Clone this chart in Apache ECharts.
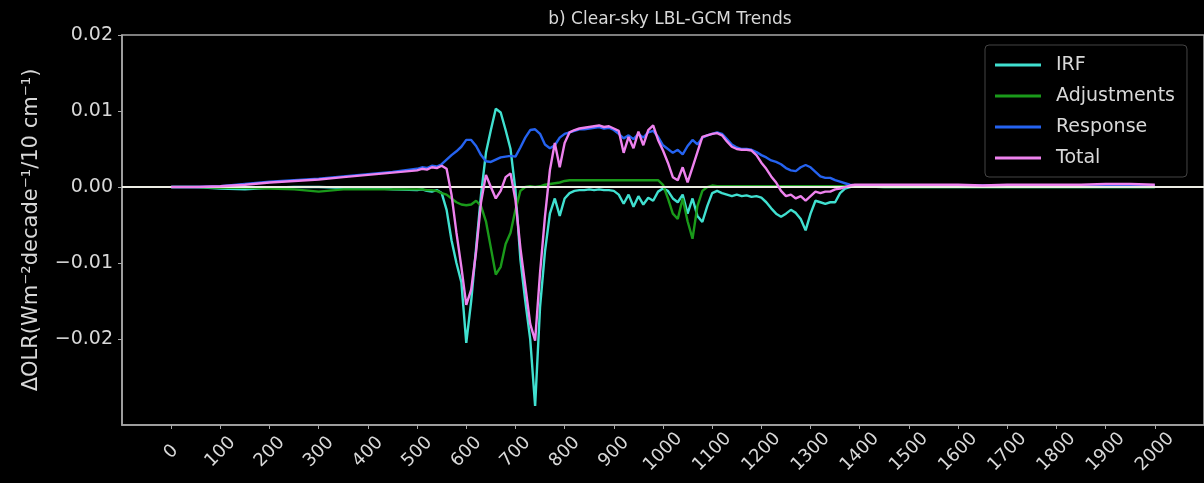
<!DOCTYPE html>
<html>
<head>
<meta charset="utf-8">
<script src="https://cdn.jsdelivr.net/npm/echarts@6/dist/echarts.min.js"></script>
<style>
  html, body { margin: 0; padding: 0; background: #000; }
  #chart { width: 1204px; height: 483px; }
</style>
</head>
<body>
<div id="chart"></div>
<script>
// Spectral grid (cm^-1): coarse outside the active band, 10 cm^-1 inside it
const wavenumber = [
  0, 50, 100, 150, 200, 250, 300, 350, 400, 450, 500,
  510, 520, 530, 540, 550, 560, 570, 580, 590, 600,
  610, 620, 630, 640, 650, 660, 670, 680, 690, 700,
  710, 720, 730, 740, 750, 760, 770, 780, 790, 800,
  810, 820, 830, 840, 850, 860, 870, 880, 890, 900,
  910, 920, 930, 940, 950, 960, 970, 980, 990, 1000,
  1010, 1020, 1030, 1040, 1050, 1060, 1070, 1080, 1090, 1100,
  1110, 1120, 1130, 1140, 1150, 1160, 1170, 1180, 1190, 1200,
  1210, 1220, 1230, 1240, 1250, 1260, 1270, 1280, 1290, 1300,
  1310, 1320, 1330, 1340, 1350, 1360, 1370, 1380, 1390, 1400,
  1450, 1500, 1550, 1600, 1650, 1700, 1750, 1800, 1850, 1900, 1950, 2000
];

// Instantaneous radiative forcing
const irf = [
  0, 0, -0.0002, -0.0003, -0.0001, 0, 0, -0.0001, -0.0001, -0.0003, -0.0004,
  -0.0003, -0.0005, -0.0006, -0.0004, -0.0008, -0.0030, -0.0070, -0.0100, -0.0125, -0.0205,
  -0.0150, -0.0080, -0.0010, 0.0045, 0.0075, 0.0103, 0.0098, 0.0075, 0.0050, -0.0004,
  -0.0095, -0.0150, -0.0200, -0.0288, -0.0158, -0.0085, -0.0035, -0.0015, -0.0038, -0.0015,
  -0.0008, -0.0005, -0.0004, -0.0004, -0.0003, -0.0004, -0.0003, -0.0004, -0.0004, -0.0005,
  -0.0010, -0.0022, -0.0010, -0.0026, -0.0012, -0.0023, -0.0014, -0.0018, -0.0006, -0.0002,
  -0.0005, -0.0015, -0.0020, -0.0010, -0.0035, -0.0015, -0.0038, -0.0046, -0.0025, -0.0008,
  -0.0005, -0.0008, -0.0010, -0.0012, -0.0010, -0.0012, -0.0011, -0.0013, -0.0012, -0.0014,
  -0.0020, -0.0028, -0.0035, -0.0039, -0.0035, -0.0030, -0.0034, -0.0042, -0.0057, -0.0035,
  -0.0018, -0.0020, -0.0022, -0.0020, -0.0020, -0.0008, -0.0002, 0, 0.0001, 0.0001,
  0, 0, 0, 0, 0, 0, 0, 0, 0, 0, 0, 0
];

// Rapid adjustments
const adjustments = [
  0, 0, -0.0001, -0.0001, -0.0002, -0.0003, -0.0006, -0.0003, -0.0003, -0.0003, -0.0003,
  -0.0003, -0.0004, -0.0004, -0.0005, -0.0008, -0.0010, -0.0015, -0.0020, -0.0023, -0.0024,
  -0.0023, -0.0018, -0.0025, -0.0045, -0.0080, -0.0115, -0.0105, -0.0075, -0.0060, -0.0030,
  -0.0005, 0, 0.0001, 0, 0.0001, 0.0003, 0.0004, 0.0005, 0.0006, 0.0008,
  0.0009, 0.0009, 0.0009, 0.0009, 0.0009, 0.0009, 0.0009, 0.0009, 0.0009, 0.0009,
  0.0009, 0.0009, 0.0009, 0.0009, 0.0009, 0.0009, 0.0009, 0.0009, 0.0009, 0.0003,
  -0.0015, -0.0035, -0.0042, -0.0015, -0.0045, -0.0068, -0.0025, -0.0005, 0, 0.0002,
  0.0001, 0.0001, 0.0001, 0.0001, 0.0001, 0.0001, 0.0001, 0.0001, 0.0001, 0.0001,
  0.0001, 0.0001, 0.0001, 0.0001, 0.0001, 0.0001, 0.0001, 0.0001, 0.0001, 0.0001,
  0.0001, 0.0001, 0.0001, 0.0001, 0.0001, 0.0001, 0.0001, 0.0001, 0.0001, 0.0001,
  0, 0, 0, 0, 0, 0, 0, 0, 0, 0, 0, 0
];

// Temperature / water-vapour response
const response = [
  0, 0, 0.0001, 0.0004, 0.0007, 0.0009, 0.0011, 0.0014, 0.0017, 0.0020, 0.0024,
  0.0026, 0.0025, 0.0028, 0.0027, 0.0030, 0.0036, 0.0042, 0.0047, 0.0053, 0.0062,
  0.0062, 0.0054, 0.0042, 0.0034, 0.0033, 0.0036, 0.0039, 0.0040, 0.0041, 0.0040,
  0.0052, 0.0065, 0.0075, 0.0076, 0.0070, 0.0056, 0.0051, 0.0055, 0.0065, 0.0070,
  0.0072, 0.0074, 0.0076, 0.0076, 0.0077, 0.0078, 0.0079, 0.0077, 0.0078, 0.0075,
  0.0070, 0.0064, 0.0068, 0.0063, 0.0070, 0.0065, 0.0072, 0.0074, 0.0066, 0.0055,
  0.0050, 0.0045, 0.0049, 0.0043, 0.0054, 0.0062, 0.0056, 0.0065, 0.0068, 0.0070,
  0.0072, 0.0070, 0.0063, 0.0056, 0.0052, 0.0050, 0.0050, 0.0049, 0.0046, 0.0042,
  0.0039, 0.0035, 0.0033, 0.0030, 0.0025, 0.0022, 0.0021, 0.0026, 0.0029, 0.0026,
  0.0020, 0.0014, 0.0012, 0.0012, 0.0009, 0.0007, 0.0005, 0.0003, 0.0002, 0.0001,
  0.0002, 0.0002, 0.0002, 0.0002, 0.0002, 0.0002, 0.0002, 0.0002, 0.0002, 0.0002, 0.0002, 0.0002
];

// Total = IRF + adjustments + response
const total = [
  0, 0, 0.0001, 0.0003, 0.0006, 0.0008, 0.0010, 0.0013, 0.0016, 0.0019, 0.0022,
  0.0024, 0.0023, 0.0026, 0.0025, 0.0028, 0.0024, -0.0010, -0.0060, -0.0105, -0.0155,
  -0.0135, -0.0085, -0.0020, 0.0016, 0.0000, -0.0015, -0.0005, 0.0013, 0.0018, -0.0017,
  -0.0080, -0.0130, -0.0180, -0.0202, -0.0113, -0.0039, 0.0022, 0.0058, 0.0026, 0.0058,
  0.0072, 0.0075, 0.0077, 0.0078, 0.0079, 0.0080, 0.0081, 0.0079, 0.0080, 0.0077,
  0.0074, 0.0045, 0.0066, 0.0051, 0.0073, 0.0055, 0.0075, 0.0081, 0.0062, 0.0048,
  0.0032, 0.0013, 0.0009, 0.0026, 0.0006, 0.0026, 0.0046, 0.0066, 0.0068, 0.0070,
  0.0071, 0.0068, 0.0060, 0.0053, 0.0050, 0.0049, 0.0049, 0.0048, 0.0042, 0.0032,
  0.0024, 0.0014, 0.0006, -0.0005, -0.0012, -0.0010, -0.0015, -0.0012, -0.0018, -0.0012,
  -0.0006, -0.0008, -0.0006, -0.0006, -0.0003, -0.0002, 0, 0.0002, 0.0003, 0.0003,
  0.0003, 0.0003, 0.0003, 0.0003, 0.0002, 0.0003, 0.0003, 0.0003, 0.0003, 0.0004, 0.0004, 0.0003
];

const xTicks = [0, 100, 200, 300, 400, 500, 600, 700, 800, 900, 1000,
                1100, 1200, 1300, 1400, 1500, 1600, 1700, 1800, 1900, 2000];
const yTicks = [-0.02, -0.01, 0, 0.01, 0.02];

const seriesNames = ['IRF', 'Adjustments', 'Response', 'Total'];
const seriesColors = ['#40e0d0', '#1a9a1a', '#2563f0', '#ee82ee'];
const seriesValues = [irf, adjustments, response, total];

const FONT = 'DejaVu Sans';
const TEXT = '#d8d8d8';
const SPINE = '#a8a8a8';

const pairs = (ys) => wavenumber.map((w, i) => [w, ys[i]]);
const fmtY = (v) => (v < 0 ? '\u2212' : '') + Math.abs(v).toFixed(2);
const fmtX = (v) => String(Math.round(v));

const lineSeries = seriesNames.map((name, k) => ({
  name: name,
  type: 'line',
  data: pairs(seriesValues[k]),
  symbol: 'none',
  smooth: false,
  lineStyle: { color: seriesColors[k], width: 2.4 },
  itemStyle: { color: seriesColors[k] },
  emphasis: { disabled: true },
  z: 2 + k
}));

// horizontal reference line at zero
lineSeries.push({
  name: 'zero',
  type: 'line',
  data: [],
  silent: true,
  z: 10,
  markLine: {
    silent: true,
    symbol: 'none',
    label: { show: false },
    lineStyle: { color: '#ecece4', width: 2, type: 'solid' },
    data: [{ yAxis: 0 }]
  }
});

const chart = echarts.init(document.getElementById('chart'), null, { renderer: 'canvas' });
chart.setOption({
  backgroundColor: '#000',
  animation: false,
  textStyle: { fontFamily: FONT },
  title: {
    text: 'b) Clear-sky LBL-GCM Trends',
    left: 665,
    top: 6,
    textAlign: 'center',
    textStyle: { color: TEXT, fontFamily: FONT, fontSize: 17, fontWeight: 'normal' }
  },
  legend: {
    data: seriesNames.map((name) => ({ name: name, icon: 'rect' })),
    orient: 'vertical',
    left: 985,
    top: 45,
    padding: [9, 12, 8, 10],
    itemWidth: 46,
    itemHeight: 3,
    itemGap: 9,
    backgroundColor: '#000',
    borderColor: '#444',
    borderWidth: 1,
    borderRadius: 4,
    selectedMode: false,
    textStyle: { color: TEXT, fontFamily: FONT, fontSize: 19, lineHeight: 22, padding: [0, 0, 0, 10] }
  },
  grid: {
    left: 122,
    top: 35,
    width: 1087,
    height: 390,
    show: true,
    borderColor: SPINE,
    borderWidth: 1.5,
    backgroundColor: 'transparent'
  },
  xAxis: {
    type: 'value',
    min: -100,
    max: 2100,
    splitLine: { show: false },
    axisLine: { show: true, onZero: false, lineStyle: { color: SPINE, width: 1.5 } },
    axisTick: { show: true, length: 4, customValues: xTicks, lineStyle: { color: SPINE } },
    axisLabel: {
      customValues: xTicks,
      formatter: fmtX,
      rotate: 45,
      align: 'center',
      verticalAlign: 'middle',
      margin: 27,
      color: TEXT,
      fontFamily: FONT,
      fontSize: 18
    }
  },
  yAxis: {
    type: 'value',
    min: -0.0313,
    max: 0.02,
    splitLine: { show: false },
    axisLine: { show: true, onZero: false, lineStyle: { color: SPINE, width: 1.5 } },
    axisTick: { show: true, length: 4, customValues: yTicks, lineStyle: { color: SPINE } },
    axisLabel: {
      customValues: yTicks,
      formatter: fmtY,
      margin: 9,
      color: TEXT,
      fontFamily: FONT,
      fontSize: 19
    },
    name: '\u0394OLR(Wm\u207b\u00b2decade\u207b\u00b9/10 cm\u207b\u00b9)',
    nameLocation: 'middle',
    nameGap: 80,
    nameTextStyle: { color: TEXT, fontFamily: FONT, fontSize: 21 }
  },
  series: lineSeries
});
</script>
</body>
</html>
